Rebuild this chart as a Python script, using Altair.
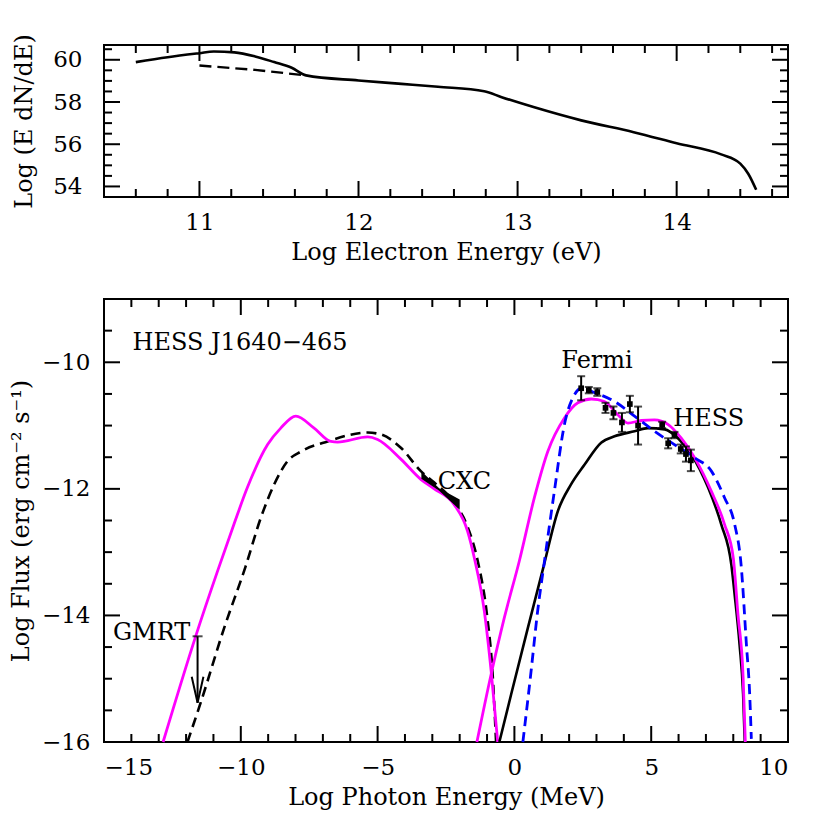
import altair as alt
import pandas as pd

FONT = "DejaVu Serif"
FS = 24      # titles and annotations
LFS = 23     # tick labels

# ---------------- top panel: electron spectrum ----------------
e_solid_x = [10.60, 10.80, 11.00, 11.09, 11.22, 11.35, 11.47, 11.58, 11.67,
             12.00, 12.27, 12.50, 12.79, 12.90, 13.10, 13.40, 13.73, 14.00,
             14.28, 14.40, 14.45, 14.50]
e_solid_y = [59.89, 60.12, 60.31, 60.39, 60.35, 60.16, 59.89, 59.62, 59.26,
             59.02, 58.86, 58.72, 58.51, 58.23, 57.76, 57.13, 56.57, 56.05,
             55.52, 55.08, 54.60, 53.84]
e_dash_x = [11.00, 11.35, 11.67]
e_dash_y = [59.73, 59.52, 59.26]

top_x_major = [11, 12, 13, 14]
top_x_minor = [10.6, 10.8, 11.2, 11.4, 11.6, 11.8, 12.2, 12.4, 12.6, 12.8,
               13.2, 13.4, 13.6, 13.8, 14.2, 14.4, 14.6]
top_y_major = [54, 56, 58, 60]
top_y_minor = [54.5, 55, 55.5, 56.5, 57, 57.5, 58.5, 59, 59.5, 60.5]

# ---------------- bottom panel: SED ----------------
syn1_x = [-12.84, -11.65, -10.85, -10.25, -9.76, -9.02, -8.54, -7.99, -7.32,
          -6.71, -6.46, -5.36, -5.00, -4.15, -3.42, -2.93, -2.20, -1.71,
          -1.46, -1.10, -0.85, -0.61]
syn1_y = [-16.0, -14.33, -13.30, -12.56, -11.98, -11.30, -11.04, -10.85, -11.04,
          -11.25, -11.26, -11.18, -11.22, -11.53, -11.85, -12.00, -12.25, -12.67,
          -13.10, -13.93, -14.88, -16.0]

syn2_x = [-11.95, -11.46, -10.61, -9.82, -9.27, -8.78, -8.29, -7.80, -6.83,
          -5.36, -4.88, -4.15, -3.42, -2.93, -2.20, -1.71, -1.34, -1.00,
          -0.80, -0.67]
syn2_y = [-16.0, -15.37, -14.20, -13.22, -12.46, -11.93, -11.56, -11.41, -11.25,
          -11.11, -11.14, -11.35, -11.72, -11.90, -12.22, -12.60, -13.14, -14.00,
          -14.90, -16.0]

ic1_x = [-1.37, -0.85, -0.37, 0.18, 0.73, 1.22, 1.83, 2.32, 2.81, 3.29, 3.78,
         4.15, 4.64, 5.12, 5.61, 6.10, 6.59, 7.20, 7.68, 8.00, 8.17, 8.36, 8.44]
ic1_y = [-16.0, -14.93, -14.04, -13.14, -12.14, -11.41, -10.88, -10.64, -10.58,
         -10.62, -10.83, -10.96, -10.92, -10.91, -10.98, -11.20, -11.51, -12.04,
         -12.56, -13.09, -13.98, -14.98, -16.0]

ic2_x = [-0.55, -0.12, 0.49, 1.07, 1.59, 2.07, 2.56, 3.17, 3.66, 4.39, 4.88,
         5.49, 5.98, 6.47, 7.08, 7.56, 7.93, 8.05, 8.23, 8.36, 8.42]
ic2_y = [-16.0, -15.25, -14.20, -13.22, -12.35, -11.93, -11.62, -11.27, -11.17,
         -11.09, -11.04, -11.06, -11.20, -11.46, -11.98, -12.56, -13.20, -13.67,
         -14.46, -15.25, -16.0]

pp_x = [0.31, 0.61, 0.85, 1.10, 1.46, 1.83, 2.20, 2.44, 2.93, 3.66, 4.39, 5.12,
        5.85, 6.59, 7.20, 7.68, 8.05, 8.29, 8.48, 8.60, 8.66]
pp_y = [-16.0, -14.88, -13.93, -13.14, -12.04, -10.98, -10.51, -10.41, -10.48,
        -10.62, -10.85, -11.09, -11.30, -11.51, -11.72, -12.14, -12.56, -13.22,
        -14.46, -15.25, -15.95]

fermi_x = [2.44, 2.72, 3.03, 3.33, 3.62, 3.93, 4.22, 4.52]
fermi_y = [-10.41, -10.44, -10.47, -10.72, -10.80, -10.95, -10.66, -11.00]
fermi_e = [0.19, 0.05, 0.06, 0.08, 0.10, 0.15, 0.13, 0.30]

hess_x = [5.40, 5.62, 5.85, 6.08, 6.27, 6.45]
hess_y = [-10.99, -11.28, -11.15, -11.37, -11.45, -11.55]
hess_e = [0.05, 0.08, 0.05, 0.07, 0.12, 0.17]

cxc_x = [-3.40, -2.75, -2.00]
cxc_hi = [-11.72, -11.99, -12.17]
cxc_lo = [-11.84, -12.03, -12.33]

gmrt_x = [-11.58]
gmrt_top = [-14.33]
gmrt_bot = [-15.38]

label_text = ["HESS J1640\u2212465", "Fermi", "HESS", "CXC", "GMRT"]
label_x = [-13.96, 3.02, 7.10, -1.83, -13.26]
label_y = [-9.70, -9.98, -10.89, -11.89, -14.28]
label_align = ["left", "center", "center", "center", "center"]

bot_x_major = [-15, -10, -5, 0, 5, 10]
bot_x_minor = [-14, -13, -12, -11, -9, -8, -7, -6, -4, -3, -2, -1,
               1, 2, 3, 4, 6, 7, 8, 9]
bot_y_major = [-16, -14, -12, -10]
bot_y_minor = [-15.5, -15, -14.5, -13.5, -13, -12.5, -11.5, -11, -10.5, -9.5]

# ---------------- helpers ----------------
TW = 684
TH = 152
BH = 443
MAJ = 16   # px
MIN = 8    # px


def frame_ticks(xs, ys, xdom, ydom, W, H, xmaj, xmin, ymaj, ymin):
    """Inward ticks on all four sides, as rules in data space (two layers)."""
    ux = (xdom[1] - xdom[0]) / W
    uy = (ydom[1] - ydom[0]) / H
    vrows = []
    for vals, ln in ((xmaj, MAJ), (xmin, MIN)):
        for v in vals:
            vrows.append((v, ydom[0], ydom[0] + ln * uy))
            vrows.append((v, ydom[1], ydom[1] - ln * uy))
    hrows = []
    for vals, ln in ((ymaj, MAJ), (ymin, MIN)):
        for v in vals:
            hrows.append((v, xdom[0], xdom[0] + ln * ux))
            hrows.append((v, xdom[1], xdom[1] - ln * ux))
    vdf = pd.DataFrame(vrows, columns=["tx", "ty1", "ty2"])
    hdf = pd.DataFrame(hrows, columns=["hy", "hx1", "hx2"])
    vt = alt.Chart(vdf).mark_rule(color="black", strokeWidth=2).encode(
        x=alt.X("tx:Q", scale=xs),
        y=alt.Y("ty1:Q", scale=ys), y2="ty2:Q")
    ht = alt.Chart(hdf).mark_rule(color="black", strokeWidth=2).encode(
        y=alt.Y("hy:Q", scale=ys),
        x=alt.X("hx1:Q", scale=xs), x2="hx2:Q")
    return [vt, ht]


def line_layer(xv, yv, xs, ys, color, dash=None, width=2.6, interp="monotone"):
    df = pd.DataFrame({"lx": xv, "ly": yv})
    kw = dict(color=color, strokeWidth=width, interpolate=interp)
    if dash:
        kw["strokeDash"] = dash
    return alt.Chart(df).mark_line(**kw).encode(
        x=alt.X("lx:Q", scale=xs),
        y=alt.Y("ly:Q", scale=ys),
    )


# ---------------- top chart ----------------
TXD = [10.4, 14.7]
TYD = [53.5, 60.7]
txs = alt.Scale(domain=TXD, zero=False, nice=False)
tys = alt.Scale(domain=TYD, zero=False, nice=False)

top_axes = alt.Chart(pd.DataFrame({"x": [10.4], "y": [53.5]})).mark_point(opacity=0).encode(
    x=alt.X("x:Q", scale=txs,
            axis=alt.Axis(values=top_x_major, title="Log Electron Energy (eV)",
                          labelPadding=14, titlePadding=6, format="d")),
    y=alt.Y("y:Q", scale=tys,
            axis=alt.Axis(values=top_y_major, title="Log (E dN/dE)",
                          labelPadding=22, titlePadding=16, format="d")),
)

top = alt.layer(
    top_axes,
    *frame_ticks(txs, tys, TXD, TYD, TW, TH, top_x_major, top_x_minor, top_y_major, top_y_minor),
    line_layer(e_solid_x, e_solid_y, txs, tys, "black", width=2.6, interp="monotone"),
    line_layer(e_dash_x, e_dash_y, txs, tys, "black", dash=[12, 6], width=2.4, interp="linear"),
).properties(width=TW, height=TH)

# ---------------- bottom chart ----------------
BXD = [-15, 10]
BYD = [-16, -9]
bxs = alt.Scale(domain=BXD, zero=False, nice=False)
bys = alt.Scale(domain=BYD, zero=False, nice=False)

bot_axes = alt.Chart(pd.DataFrame({"x": [-15], "y": [-16]})).mark_point(opacity=0).encode(
    x=alt.X("x:Q", scale=bxs,
            axis=alt.Axis(values=bot_x_major, title="Log Photon Energy (MeV)",
                          labelPadding=14, titlePadding=6, format="d")),
    y=alt.Y("y:Q", scale=bys,
            axis=alt.Axis(values=bot_y_major, title="Log Flux (erg cm\u207b\u00b2 s\u207b\u00b9)",
                          labelPadding=14, titlePadding=8, format="d")),
)

fermi_df = pd.DataFrame({"x": fermi_x, "y": fermi_y, "e": fermi_e})
hess_df = pd.DataFrame({"x": hess_x, "y": hess_y, "e": hess_e})
pts_df = pd.concat([fermi_df, hess_df], ignore_index=True)
pts_df["lo"] = pts_df["y"] - pts_df["e"]
pts_df["hi"] = pts_df["y"] + pts_df["e"]

pts_base = alt.Chart(pts_df)
err_rule = pts_base.mark_rule(color="black", strokeWidth=2).encode(
    x=alt.X("x:Q", scale=bxs),
    y=alt.Y("lo:Q", scale=bys), y2="hi:Q")
cap_lo = pts_base.mark_tick(orient="horizontal", size=8, thickness=2, color="black").encode(
    x=alt.X("x:Q", scale=bxs), y=alt.Y("lo:Q", scale=bys))
cap_hi = pts_base.mark_tick(orient="horizontal", size=8, thickness=2, color="black").encode(
    x=alt.X("x:Q", scale=bxs), y=alt.Y("hi:Q", scale=bys))
squares = pts_base.mark_square(size=32, color="black", opacity=1).encode(
    x=alt.X("x:Q", scale=bxs), y=alt.Y("y:Q", scale=bys))

cxc_df = pd.DataFrame({"x": cxc_x, "hi": cxc_hi, "lo": cxc_lo})
cxc = alt.Chart(cxc_df).mark_area(color="black", opacity=1, interpolate="linear").encode(
    x=alt.X("x:Q", scale=bxs),
    y=alt.Y("hi:Q", scale=bys), y2="lo:Q")

gmrt_df = pd.DataFrame({"x": gmrt_x, "top": gmrt_top, "bot": gmrt_bot})
gmrt_rule = alt.Chart(gmrt_df).mark_rule(color="black", strokeWidth=2).encode(
    x=alt.X("x:Q", scale=bxs),
    y=alt.Y("top:Q", scale=bys), y2="bot:Q")
gmrt_cap = alt.Chart(gmrt_df).mark_tick(orient="horizontal", size=10, thickness=2, color="black").encode(
    x=alt.X("x:Q", scale=bxs), y=alt.Y("top:Q", scale=bys))
gmrt_head = alt.Chart(gmrt_df).mark_point(
    shape="M-0.45,-2L0,0L0.45,-2", size=676, filled=False, stroke="black",
    strokeWidth=2, opacity=1).encode(
    x=alt.X("x:Q", scale=bxs), y=alt.Y("bot:Q", scale=bys))

lab_df = pd.DataFrame({"t": label_text, "x": label_x, "y": label_y, "a": label_align})
labels_left = alt.Chart(lab_df[lab_df["a"] == "left"]).mark_text(
    font=FONT, fontSize=FS, align="left", baseline="middle", color="black").encode(
    x=alt.X("x:Q", scale=bxs), y=alt.Y("y:Q", scale=bys), text="t:N")
labels_center = alt.Chart(lab_df[lab_df["a"] == "center"]).mark_text(
    font=FONT, fontSize=FS, align="center", baseline="middle", color="black").encode(
    x=alt.X("x:Q", scale=bxs), y=alt.Y("y:Q", scale=bys), text="t:N")

bottom = alt.layer(
    bot_axes,
    *frame_ticks(bxs, bys, BXD, BYD, TW, BH, bot_x_major, bot_x_minor, bot_y_major, bot_y_minor),
    line_layer(syn2_x, syn2_y, bxs, bys, "black", dash=[10, 6], width=2.6),
    line_layer(syn1_x, syn1_y, bxs, bys, "#ff00ff", width=2.8),
    line_layer(ic2_x, ic2_y, bxs, bys, "black", width=2.6),
    line_layer(ic1_x, ic1_y, bxs, bys, "#ff00ff", width=2.8),
    line_layer(pp_x, pp_y, bxs, bys, "#0000ff", dash=[10, 6], width=2.8),
    cxc, err_rule, cap_lo, cap_hi, squares,
    gmrt_rule, gmrt_cap, gmrt_head,
    labels_left, labels_center,
).properties(width=TW, height=BH)

chart = alt.vconcat(top, bottom, spacing=32).properties(
    padding={"left": 0, "top": 24, "right": 5, "bottom": 5},
).configure_view(
    stroke="black", strokeWidth=2
).configure_axis(
    grid=False, ticks=False, domain=False,
    labelFont=FONT, labelFontSize=LFS, labelColor="black",
    titleFont=FONT, titleFontSize=FS, titleFontWeight="normal", titleColor="black",
)

chart.save("out.html", embed_options={"renderer": "svg", "actions": False})
